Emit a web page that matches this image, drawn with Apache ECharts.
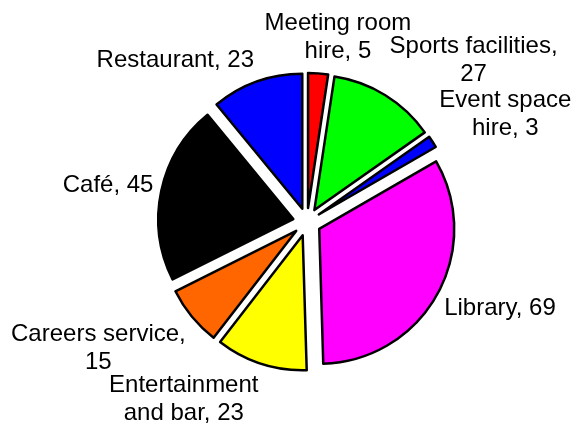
<!DOCTYPE html>
<html>
<head>
<meta charset="utf-8">
<script src="https://cdn.jsdelivr.net/npm/echarts@6/dist/echarts.min.js"></script>
<style>
  html, body { margin: 0; padding: 0; background: #ffffff; }
  #chart { width: 576px; height: 433px; }
</style>
</head>
<body>
<div id="chart"></div>
<script>
// Facility usage, clockwise from 12 o'clock
const categories = ['Meeting room\nhire', 'Sports facilities', 'Event space\nhire', 'Library',
                    'Entertainment\nand bar', 'Careers service', 'Café', 'Restaurant'];
const values = [5, 27, 3, 69, 23, 15, 45, 23];
const colors = ['#ff0000', '#00ff00', '#0000ff', '#ff00ff', '#ffff00', '#ff6600', '#000000', '#0000ff'];
// labels whose number goes on its own line
const valueOnNewLine = [false, true, false, false, false, true, false, false];

// geometry of the pie (pixels)
const CX = 307, CY = 222, RADIUS = 135, EXPLODE = 14, LABEL_DIST = 157;
const FONT_SIZE = 24, LINE_HEIGHT = 28, FONT_FAMILY = 'Liberation Sans';

const total = values.reduce((a, b) => a + b, 0);
const midAngles = [];
let acc = 0;
values.forEach(v => { midAngles.push((acc + v / 2) / total * 2 * Math.PI); acc += v; });

function clamp(v) { return Math.max(-1, Math.min(1, v)); }
function labelText(i) {
  return categories[i] + ',' + (valueOnNewLine[i] ? '\n' : ' ') + values[i];
}

const chart = echarts.init(document.getElementById('chart'), null, { renderer: 'canvas' });

const pieBase = {
  type: 'pie',
  center: [CX, CY],
  radius: RADIUS,
  startAngle: 90,
  clockwise: true,
  avoidLabelOverlap: false,
  emphasis: { disabled: true }
};

chart.setOption({
  animation: false,
  backgroundColor: '#ffffff',
  series: [
    // exploded slices
    Object.assign({}, pieBase, {
      selectedMode: 'multiple',
      selectedOffset: EXPLODE,
      itemStyle: { borderColor: '#000000', borderWidth: 2.5 },
      label: { show: false },
      labelLine: { show: false },
      data: categories.map((name, i) => ({
        name: name,
        value: values[i],
        selected: true,
        itemStyle: { color: colors[i] },
        select: { itemStyle: { color: colors[i], borderColor: '#000000', borderWidth: 2.5 } }
      }))
    }),
    // category labels, laid out around the same pie
    Object.assign({}, pieBase, {
      silent: true,
      itemStyle: { color: 'rgba(0,0,0,0)', borderWidth: 0 },
      label: {
        show: true,
        position: 'outside',
        fontFamily: FONT_FAMILY,
        fontSize: FONT_SIZE,
        lineHeight: LINE_HEIGHT,
        color: '#000000',
        align: 'center',
        formatter: p => labelText(p.dataIndex)
      },
      labelLine: { show: false },
      // each label box sits just outside its slice, anchored by the corner facing the pie
      labelLayout: function (p) {
        const a = midAngles[p.dataIndex];
        const s = Math.sin(a), c = -Math.cos(a);
        const w = p.labelRect.width, h = p.labelRect.height;
        return {
          x: CX + LABEL_DIST * s + w / 2 * clamp(3.5 * s),
          y: CY + LABEL_DIST * c + h / 2 * clamp(1.5 * c),
          align: 'center',
          verticalAlign: 'middle'
        };
      },
      data: categories.map((name, i) => ({ name: name, value: values[i] }))
    })
  ]
});
</script>
</body>
</html>
